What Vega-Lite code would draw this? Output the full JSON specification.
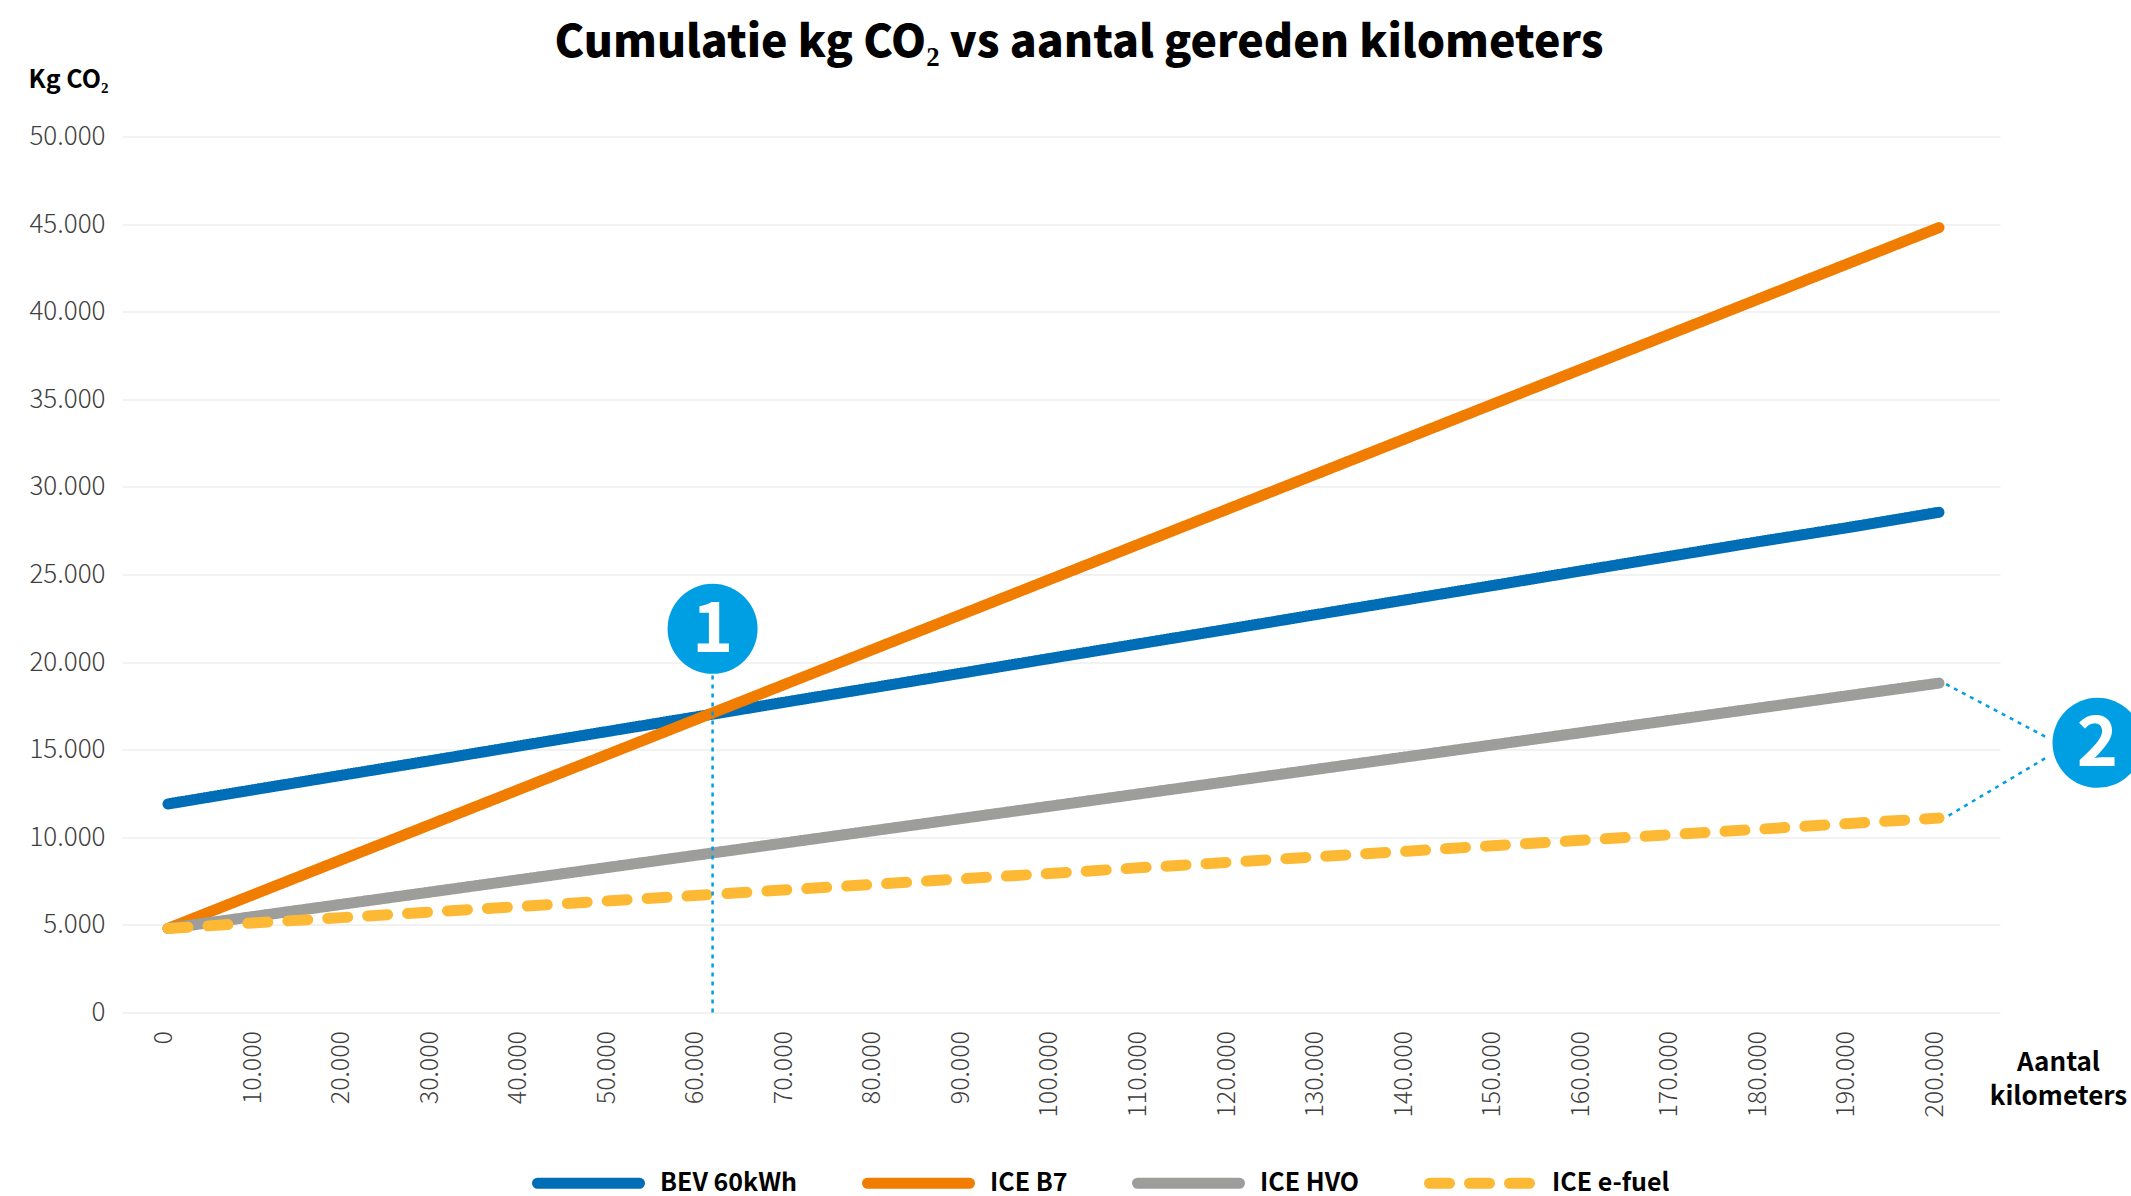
{"$schema":"https://vega.github.io/schema/vega-lite/v6.json","width":1878,"height":876,"autosize":{"type":"none"},"padding":{"left":122,"top":136.5,"right":131,"bottom":183.5},"background":"white",
"title":{"text":"Cumulatie kg CO₂ vs aantal gereden kilometers","anchor":"middle","dx":18,"offset":1,"fontSize":44.6,"font":"Noto Sans CJK SC","fontWeight":900,"color":"#000000"},
"config":{"view":{"stroke":null},"font":"Noto Sans CJK SC"},
"datasets":{
"lines":[
{"km":0,"s":"BEV 60kWh","v":11900},{"km":10000,"s":"BEV 60kWh","v":12740},{"km":20000,"s":"BEV 60kWh","v":13570},{"km":30000,"s":"BEV 60kWh","v":14400},{"km":40000,"s":"BEV 60kWh","v":15240},{"km":50000,"s":"BEV 60kWh","v":16070},{"km":60000,"s":"BEV 60kWh","v":16900},{"km":70000,"s":"BEV 60kWh","v":17740},{"km":80000,"s":"BEV 60kWh","v":18570},{"km":90000,"s":"BEV 60kWh","v":19400},{"km":100000,"s":"BEV 60kWh","v":20240},{"km":110000,"s":"BEV 60kWh","v":21070},{"km":120000,"s":"BEV 60kWh","v":21900},{"km":130000,"s":"BEV 60kWh","v":22740},{"km":140000,"s":"BEV 60kWh","v":23570},{"km":150000,"s":"BEV 60kWh","v":24400},{"km":160000,"s":"BEV 60kWh","v":25240},{"km":170000,"s":"BEV 60kWh","v":26070},{"km":180000,"s":"BEV 60kWh","v":26900},{"km":190000,"s":"BEV 60kWh","v":27700},{"km":200000,"s":"BEV 60kWh","v":28550},
{"km":0,"s":"ICE B7","v":4800},{"km":10000,"s":"ICE B7","v":6800},{"km":20000,"s":"ICE B7","v":8800},{"km":30000,"s":"ICE B7","v":10800},{"km":40000,"s":"ICE B7","v":12800},{"km":50000,"s":"ICE B7","v":14800},{"km":60000,"s":"ICE B7","v":16800},{"km":70000,"s":"ICE B7","v":18800},{"km":80000,"s":"ICE B7","v":20800},{"km":90000,"s":"ICE B7","v":22800},{"km":100000,"s":"ICE B7","v":24800},{"km":110000,"s":"ICE B7","v":26800},{"km":120000,"s":"ICE B7","v":28800},{"km":130000,"s":"ICE B7","v":30800},{"km":140000,"s":"ICE B7","v":32800},{"km":150000,"s":"ICE B7","v":34800},{"km":160000,"s":"ICE B7","v":36800},{"km":170000,"s":"ICE B7","v":38800},{"km":180000,"s":"ICE B7","v":40800},{"km":190000,"s":"ICE B7","v":42800},{"km":200000,"s":"ICE B7","v":44800},
{"km":0,"s":"ICE HVO","v":4800},{"km":10000,"s":"ICE HVO","v":5500},{"km":20000,"s":"ICE HVO","v":6200},{"km":30000,"s":"ICE HVO","v":6900},{"km":40000,"s":"ICE HVO","v":7600},{"km":50000,"s":"ICE HVO","v":8300},{"km":60000,"s":"ICE HVO","v":9000},{"km":70000,"s":"ICE HVO","v":9700},{"km":80000,"s":"ICE HVO","v":10400},{"km":90000,"s":"ICE HVO","v":11100},{"km":100000,"s":"ICE HVO","v":11800},{"km":110000,"s":"ICE HVO","v":12500},{"km":120000,"s":"ICE HVO","v":13200},{"km":130000,"s":"ICE HVO","v":13900},{"km":140000,"s":"ICE HVO","v":14600},{"km":150000,"s":"ICE HVO","v":15300},{"km":160000,"s":"ICE HVO","v":16000},{"km":170000,"s":"ICE HVO","v":16700},{"km":180000,"s":"ICE HVO","v":17400},{"km":190000,"s":"ICE HVO","v":18100},{"km":200000,"s":"ICE HVO","v":18800},
{"km":0,"s":"ICE e-fuel","v":4800},{"km":10000,"s":"ICE e-fuel","v":5120},{"km":20000,"s":"ICE e-fuel","v":5430},{"km":30000,"s":"ICE e-fuel","v":5750},{"km":40000,"s":"ICE e-fuel","v":6060},{"km":50000,"s":"ICE e-fuel","v":6380},{"km":60000,"s":"ICE e-fuel","v":6690},{"km":70000,"s":"ICE e-fuel","v":7010},{"km":80000,"s":"ICE e-fuel","v":7320},{"km":90000,"s":"ICE e-fuel","v":7640},{"km":100000,"s":"ICE e-fuel","v":7950},{"km":110000,"s":"ICE e-fuel","v":8270},{"km":120000,"s":"ICE e-fuel","v":8580},{"km":130000,"s":"ICE e-fuel","v":8900},{"km":140000,"s":"ICE e-fuel","v":9210},{"km":150000,"s":"ICE e-fuel","v":9530},{"km":160000,"s":"ICE e-fuel","v":9840},{"km":170000,"s":"ICE e-fuel","v":10160},{"km":180000,"s":"ICE e-fuel","v":10470},{"km":190000,"s":"ICE e-fuel","v":10790},{"km":200000,"s":"ICE e-fuel","v":11100}],
"leaders":[{"g":"a","km":61500,"v":0},{"g":"a","km":61500,"v":19500},{"g":"b","km":200800,"v":18740},{"g":"b","km":212400,"v":15640},{"g":"c","km":201100,"v":11240},{"g":"c","km":212400,"v":14630}],
"badges":[{"km":61500,"v":21900,"t":"1"},{"km":217900,"v":15390,"t":"2"}]},
"layer":[
{"data":{"name":"lines"},"mark":{"type":"line","strokeWidth":11,"strokeCap":"round","strokeJoin":"round"},
"encoding":{
"x":{"field":"km","type":"quantitative","scale":{"domain":[-5195,206889],"nice":false,"zero":false},
"axis":{"title":["Aantal","kilometers"],"titleFont":"Noto Sans CJK SC","titleFontSize":26,"titleFontWeight":"bold","titleColor":"#000000","titleAlign":"center","titleBaseline":"middle","titleAngle":0,"titleX":1936,"titleY":50,"titleLineHeight":34,
"values":[0,10000,20000,30000,40000,50000,60000,70000,80000,90000,100000,110000,120000,130000,140000,150000,160000,170000,180000,190000,200000],"labelExpr":"replace(format(datum.value,','),',','.')","labelAngle":-90,"labelAlign":"right","labelBaseline":"middle","labelPadding":18,"labelOffset":-4.5,"labelFontSize":25,"labelFontWeight":200,"labelFont":"Noto Sans CJK SC","labelColor":"#404040","labelOverlap":false,"labelBound":false,"labelFlush":false,"ticks":false,"grid":false,"domain":false}},
"y":{"field":"v","type":"quantitative","scale":{"domain":[0,50000],"nice":false},
"axis":{"title":"Kg CO₂","titleAngle":0,"titleAlign":"left","titleBaseline":"middle","titleX":-94,"titleY":-57,"titleFont":"Noto Sans CJK SC","titleFontSize":25,"titleFontWeight":"bold","titleColor":"#000000",
"values":[0,5000,10000,15000,20000,25000,30000,35000,40000,45000,50000],"labelExpr":"replace(format(datum.value,','),',','.')","labelPadding":17,"labelFontSize":26,"labelFontWeight":200,"labelFont":"Noto Sans CJK SC","labelColor":"#404040","ticks":false,"domain":false,"grid":true,"gridColor":"#eeeeee","gridWidth":1.5}},
"color":{"field":"s","type":"nominal","sort":null,"scale":{"domain":["BEV 60kWh","ICE B7","ICE HVO","ICE e-fuel"],"range":["#006eb7","#f07d00","#9d9d9c","#fdb933"]},
"legend":{"title":null,"orient":"none","legendX":410,"legendY":990,"direction":"horizontal","columns":4,"columnPadding":47,"symbolType":"stroke","symbolSize":10404,"symbolStrokeWidth":11,"labelOffset":15,"labelFont":"Noto Sans CJK SC","labelFontSize":25,"labelFontWeight":"bold","labelColor":"#000000","encode":{"symbols":{"update":{"strokeCap":{"value":"round"}}}}}},
"strokeDash":{"field":"s","type":"nominal","sort":null,"scale":{"domain":["BEV 60kWh","ICE B7","ICE HVO","ICE e-fuel"],"range":[[1,0],[1,0],[1,0],[20,20]]}}}},
{"data":{"name":"leaders"},"mark":{"type":"line","stroke":"#009fe3","strokeWidth":2.5,"strokeDash":[4,5]},"encoding":{"x":{"field":"km","type":"quantitative"},"y":{"field":"v","type":"quantitative"},"detail":{"field":"g"}}},
{"data":{"name":"badges"},"mark":{"type":"point","filled":true,"shape":"circle","size":8100,"color":"#009fe3","opacity":1},"encoding":{"x":{"field":"km","type":"quantitative"},"y":{"field":"v","type":"quantitative"}}},
{"data":{"name":"badges"},"mark":{"type":"text","font":"Noto Sans CJK SC","fontWeight":"bold","fontSize":70,"color":"#ffffff","align":"center","baseline":"middle","dy":2},"encoding":{"x":{"field":"km","type":"quantitative"},"y":{"field":"v","type":"quantitative"},"text":{"field":"t"}}}
]}
